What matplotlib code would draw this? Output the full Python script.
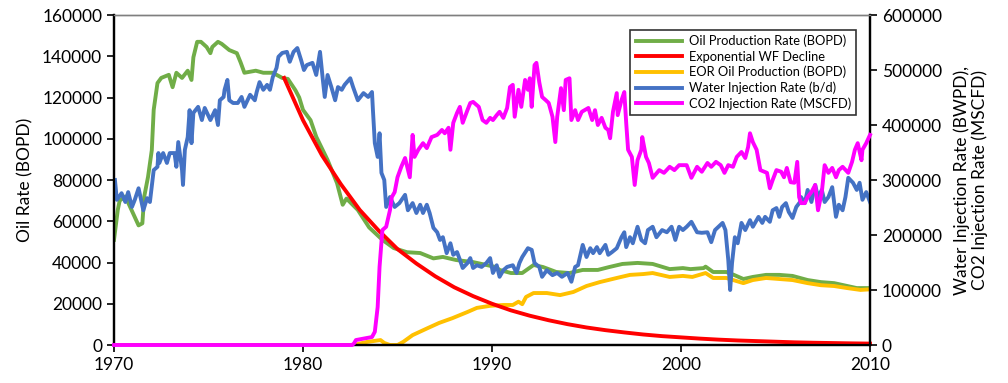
import numpy as np
import matplotlib
matplotlib.use("Agg")
import matplotlib.pyplot as plt

plt.rcParams['font.family'] = ['Lato', 'DejaVu Sans']

# -------------------
# data
# -------------------
oil_year = [1970.0, 1970.2, 1970.3, 1970.6, 1971.0, 1971.3, 1971.5, 1971.6, 1971.8, 1972.0,
            1972.1, 1972.3, 1972.5, 1972.9, 1973.1, 1973.3, 1973.6, 1973.9, 1974.1, 1974.2,
            1974.4, 1974.6, 1974.9, 1975.1, 1975.2, 1975.5, 1975.7, 1976.1, 1976.5, 1976.7,
            1976.9, 1977.2, 1977.5, 1977.9, 1978.4, 1978.9, 1979.2, 1979.6, 1979.8, 1980.0,
            1980.4, 1980.7, 1981.3, 1981.8, 1982.1, 1982.3, 1982.9, 1983.5, 1984.2, 1984.8,
            1985.5, 1986.2, 1986.9, 1987.4, 1988.1, 1989.0, 1989.7, 1990.2, 1990.4, 1991.0,
            1991.6, 1992.2, 1992.7, 1993.4, 1994.1, 1994.8, 1995.6, 1996.2, 1996.9, 1997.7,
            1998.5, 1999.4, 2000.1, 2000.5, 2001.2, 2001.3, 2001.7, 2002.4, 2002.8, 2003.3,
            2003.8, 2004.5, 2005.2, 2005.9, 2006.7, 2007.4, 2008.1, 2008.8, 2009.3, 2010.0]
oil_rate = [51000, 65500, 70000, 72000, 64000, 58000, 59000, 72000, 81500, 94500,
            114000, 127000, 129500, 131000, 125000, 132000, 129500, 133000, 128500, 139500,
            147000, 147000, 144500, 141500, 144500, 147000, 146000, 143000, 141500, 137000,
            132000, 132500, 133000, 132000, 132000, 129500, 129000, 123500, 120000, 114000,
            109000, 101000, 89700, 78500, 68000, 71000, 65500, 57000, 51000, 47000,
            45000, 44600, 42000, 42700, 41200, 40200, 38800, 37800, 36400, 34900,
            34900, 38800, 37800, 35400, 34900, 36400, 36400, 37800, 39300, 39800,
            39300, 36800, 37300, 36800, 37300, 38000, 35400, 35400, 34000, 32000,
            33000, 34000, 34000, 33500, 31500, 30500, 30000, 28600, 27600, 27600]

decline_year = list(range(1979, 2011))
decline_rate = [129500, 109000, 92000, 78000, 65500, 55500, 46500, 39500, 33300, 28000,
                23700, 20000, 16800, 14200, 12000, 10100, 8500, 7200, 6100, 5100,
                4300, 3700, 3100, 2600, 2200, 1900, 1600, 1300, 1100, 950, 800, 680]

eor_year = [1970.0, 1982.8, 1982.9, 1983.4, 1984.1, 1984.3, 1984.6, 1985.0, 1985.3, 1985.8,
            1986.6, 1987.2, 1987.9, 1988.7, 1989.2, 1989.9, 1990.6, 1991.1, 1991.4, 1991.6,
            1991.8, 1992.2, 1992.9, 1993.6, 1994.3, 1995.0, 1995.7, 1996.6, 1997.3, 1998.0,
            1998.5, 1999.4, 2000.1, 2000.6, 2001.3, 2001.7, 2002.4, 2003.3, 2003.8, 2004.5,
            2005.2, 2005.9, 2006.7, 2007.4, 2008.1, 2008.8, 2009.5, 2010.0]
eor_rate = [0, 0, 500, 1500, 2400, 1000, 0, 0, 1500, 4800,
            8200, 10700, 13000, 16000, 18000, 19000, 19400, 19400, 21000, 19800,
            23300, 25200, 25200, 24200, 25700, 28600, 30500, 32500, 34000, 34400,
            34900, 33000, 33500, 33000, 34900, 32500, 32500, 30000, 31500, 32500,
            32000, 31500, 30000, 29000, 28600, 27600, 26700, 27000]

water_year = [1970.05, 1970.15, 1970.4, 1970.6, 1970.75, 1970.95, 1971.1, 1971.3, 1971.55, 1971.75,
              1971.9, 1972.1, 1972.3, 1972.35, 1972.4, 1972.6, 1972.8, 1972.95, 1973.2, 1973.3,
              1973.4, 1973.6, 1973.65, 1973.75, 1973.9, 1974.0, 1974.1, 1974.2, 1974.45, 1974.65,
              1974.8, 1975.1, 1975.35, 1975.5, 1975.6, 1975.8, 1975.85, 1976.0, 1976.1, 1976.3,
              1976.55, 1976.75, 1976.9, 1977.2, 1977.45, 1977.55, 1977.7, 1977.9, 1978.1, 1978.25,
              1978.4, 1978.6, 1978.7, 1978.9, 1979.15, 1979.3, 1979.5, 1979.7, 1979.9, 1980.05,
              1980.2, 1980.5, 1980.7, 1980.9, 1981.05, 1981.15, 1981.3, 1981.5, 1981.7, 1981.85,
              1982.05, 1982.2, 1982.5, 1982.65, 1982.9, 1983.2, 1983.45, 1983.65, 1983.7, 1983.8,
              1983.95, 1984.05, 1984.15, 1984.3, 1984.4, 1984.6, 1984.85, 1985.1, 1985.4, 1985.55,
              1985.8, 1986.0, 1986.2, 1986.35, 1986.55, 1986.7, 1986.9, 1987.1, 1987.25, 1987.4,
              1987.6, 1987.8, 1987.95, 1988.15, 1988.3, 1988.45, 1988.7, 1988.85, 1989.0, 1989.2,
              1989.45, 1989.7, 1989.9, 1990.05, 1990.25, 1990.4, 1990.6, 1990.8, 1991.1, 1991.3,
              1991.45, 1991.6, 1991.9, 1992.1, 1992.25, 1992.5, 1992.65, 1992.9, 1993.2, 1993.45,
              1993.7, 1994.0, 1994.2, 1994.4, 1994.55, 1994.8, 1995.0, 1995.2, 1995.35, 1995.55,
              1995.7, 1996.0, 1996.15, 1996.35, 1996.6, 1996.85, 1997.0, 1997.1, 1997.3, 1997.45,
              1997.7, 1997.9, 1998.1, 1998.25, 1998.5, 1998.7, 1999.0, 1999.25, 1999.5, 1999.7,
              1999.9, 2000.1, 2000.3, 2000.55, 2000.85, 2001.1, 2001.4, 2001.6, 2001.8, 2002.2,
              2002.35, 2002.5, 2002.6, 2002.7, 2002.85, 2003.0, 2003.2, 2003.4, 2003.65, 2003.8,
              2004.1, 2004.3, 2004.45, 2004.7, 2004.85, 2005.05, 2005.2, 2005.35, 2005.55, 2005.7,
              2005.9, 2006.1, 2006.3, 2006.35, 2006.55, 2006.7, 2006.9, 2007.1, 2007.25, 2007.45,
              2007.6, 2007.8, 2008.0, 2008.2, 2008.35, 2008.55, 2008.7, 2008.85, 2009.1, 2009.3,
              2009.45, 2009.6, 2009.8, 2010.0]
water_rate = [300000, 264000, 276000, 260000, 278000, 251000, 264000, 285000, 245000, 267000,
              260000, 318000, 324000, 349000, 331000, 349000, 331000, 349000, 349000, 324000,
              369000, 318000, 291000, 355000, 378000, 427000, 367000, 422000, 433000, 409000,
              431000, 409000, 427000, 400000, 445000, 451000, 464000, 482000, 445000, 440000,
              440000, 451000, 433000, 455000, 445000, 460000, 478000, 464000, 473000, 464000,
              487000, 504000, 524000, 531000, 533000, 515000, 533000, 540000, 518000, 500000,
              509000, 513000, 491000, 533000, 482000, 451000, 491000, 469000, 445000, 469000,
              464000, 473000, 485000, 469000, 445000, 458000, 451000, 460000, 427000, 367000,
              342000, 385000, 313000, 300000, 251000, 269000, 251000, 258000, 273000, 245000,
              258000, 240000, 255000, 240000, 255000, 240000, 213000, 205000, 191000, 196000,
              167000, 185000, 164000, 169000, 155000, 140000, 149000, 158000, 140000, 145000,
              142000, 149000, 158000, 131000, 145000, 124000, 136000, 142000, 145000, 131000,
              149000, 160000, 176000, 173000, 149000, 142000, 124000, 136000, 127000, 131000,
              124000, 131000, 115000, 142000, 145000, 182000, 160000, 176000, 167000, 178000,
              167000, 182000, 164000, 169000, 176000, 196000, 205000, 178000, 196000, 185000,
              215000, 191000, 185000, 209000, 215000, 196000, 209000, 205000, 215000, 191000,
              215000, 209000, 215000, 224000, 205000, 204000, 205000, 187000, 209000, 222000,
              209000, 155000, 100000, 149000, 196000, 185000, 222000, 209000, 227000, 215000,
              233000, 222000, 233000, 224000, 245000, 249000, 233000, 251000, 258000, 242000,
              231000, 251000, 260000, 269000, 258000, 282000, 260000, 291000, 269000, 282000,
              260000, 269000, 287000, 233000, 255000, 245000, 269000, 304000, 295000, 282000,
              295000, 264000, 278000, 260000]

co2_year = [1970.0, 1982.6, 1982.7, 1982.8, 1983.4, 1983.65, 1983.8, 1983.95, 1984.05, 1984.15,
            1984.2, 1984.4, 1984.6, 1984.7, 1984.85, 1985.0, 1985.2, 1985.4, 1985.65, 1985.8,
            1985.9, 1986.1, 1986.35, 1986.55, 1986.8, 1987.1, 1987.35, 1987.5, 1987.7, 1987.8,
            1987.95, 1988.15, 1988.3, 1988.45, 1988.7, 1988.85, 1989.0, 1989.3, 1989.5, 1989.7,
            1989.9, 1990.05, 1990.25, 1990.4, 1990.6, 1990.8, 1990.95, 1991.1, 1991.2, 1991.4,
            1991.55, 1991.75, 1991.9, 1992.0, 1992.1, 1992.25, 1992.35, 1992.5, 1992.65, 1992.85,
            1993.0, 1993.2, 1993.35, 1993.45, 1993.65, 1993.8, 1993.9, 1994.1, 1994.2, 1994.4,
            1994.55, 1994.75, 1995.1, 1995.3, 1995.45, 1995.6, 1995.8, 1996.0, 1996.15, 1996.25,
            1996.4, 1996.6, 1996.65, 1996.85, 1997.0, 1997.1, 1997.2, 1997.4, 1997.55, 1997.7,
            1997.9, 1997.95, 1998.15, 1998.3, 1998.5, 1998.85, 1999.1, 1999.4, 1999.65, 1999.9,
            2000.3, 2000.55, 2000.85, 2001.1, 2001.4, 2001.6, 2001.85, 2002.1, 2002.3, 2002.5,
            2002.75, 2002.95, 2003.2, 2003.4, 2003.55, 2003.65, 2003.8, 2004.0, 2004.2, 2004.55,
            2004.7, 2004.85, 2005.05, 2005.3, 2005.45, 2005.6, 2005.8, 2006.0, 2006.15, 2006.25,
            2006.35, 2006.55, 2006.7, 2006.9, 2007.1, 2007.25, 2007.45, 2007.6, 2007.8, 2008.0,
            2008.2, 2008.35, 2008.55, 2008.85, 2009.05, 2009.2, 2009.35, 2009.55, 2009.6, 2009.8,
            2010.0]
co2_rate = [0, 0, 3000, 9000, 13000, 14500, 24000, 69000, 142000, 185000,
            209000, 215000, 245000, 269000, 278000, 305000, 324000, 340000, 305000, 382000,
            342000, 355000, 367000, 358000, 378000, 382000, 391000, 385000, 395000, 355000,
            404000, 422000, 433000, 404000, 427000, 440000, 442000, 433000, 409000, 404000,
            413000, 409000, 418000, 424000, 413000, 431000, 469000, 473000, 415000, 464000,
            433000, 482000, 464000, 485000, 433000, 509000, 513000, 478000, 451000, 445000,
            440000, 415000, 369000, 415000, 467000, 427000, 482000, 485000, 409000, 427000,
            409000, 424000, 431000, 409000, 427000, 400000, 413000, 395000, 391000, 376000,
            424000, 458000, 418000, 445000, 460000, 404000, 355000, 342000, 291000, 336000,
            355000, 378000, 342000, 331000, 304000, 318000, 313000, 324000, 318000, 327000,
            327000, 304000, 324000, 315000, 331000, 324000, 333000, 327000, 313000, 327000,
            324000, 342000, 351000, 340000, 360000, 385000, 369000, 355000, 318000, 313000,
            285000, 300000, 318000, 315000, 305000, 322000, 296000, 295000, 333000, 269000,
            258000, 258000, 269000, 278000, 291000, 245000, 278000, 327000, 313000, 322000,
            305000, 318000, 324000, 313000, 333000, 355000, 367000, 336000, 355000, 367000,
            382000]

# -------------------
# plot
# -------------------
fig = plt.figure(figsize=(10.08, 3.83), dpi=100)
ax = fig.add_axes([0.1131, 0.0992, 0.7500, 0.8616])
ax2 = ax.twinx()

lw = 2.8
l1, = ax.plot(oil_year, oil_rate, color='#70ad47', lw=lw, label='Oil Production Rate (BOPD)')
l2, = ax.plot(decline_year, decline_rate, color='#ff0000', lw=lw, label='Exponential WF Decline',
              clip_on=False, zorder=4)
l3, = ax.plot(eor_year, eor_rate, color='#ffc000', lw=lw, label='EOR Oil Production (BOPD)')
l4, = ax2.plot(water_year, water_rate, color='#4472c4', lw=lw, label='Water Injection Rate (b/d)')
l5, = ax2.plot(co2_year, co2_rate, color='#ff00ff', lw=lw, label='CO2 Injection Rate (MSCFD)',
               clip_on=False, zorder=4)

ax.set_xlim(1970, 2010)
ax.set_ylim(0, 160000)
ax2.set_ylim(0, 600000)
ax.set_xticks([1970, 1980, 1990, 2000, 2010])
ax.set_yticks(np.arange(0, 160001, 20000))
ax2.set_yticks(np.arange(0, 600001, 100000))

for a in (ax, ax2):
    a.tick_params(direction='out', labelsize=12.5, length=5, width=1.2, colors='black')
    for s in a.spines.values():
        s.set_linewidth(1.6)
    a.spines['top'].set_color('#7f7f7f')
    a.spines['top'].set_linewidth(1.0)

ax.set_ylabel('Oil Rate (BOPD)', fontsize=12.5, labelpad=6)
ax2.set_ylabel('Water Injection Rate (BWPD),\nCO2 Injection Rate (MSCFD)', fontsize=12.5,
               labelpad=8, linespacing=1.1)

leg = ax2.legend(handles=[l1, l2, l3, l4, l5], loc='upper right', bbox_to_anchor=(0.99, 0.975),
                 fontsize=9.3, frameon=True, fancybox=False, handlelength=3.6,
                 borderpad=0.4, labelspacing=0.25, handletextpad=0.5)
leg.get_frame().set_edgecolor('black')
leg.get_frame().set_linewidth(1.2)
leg.set_zorder(5)

plt.savefig('out.png', dpi=100)
